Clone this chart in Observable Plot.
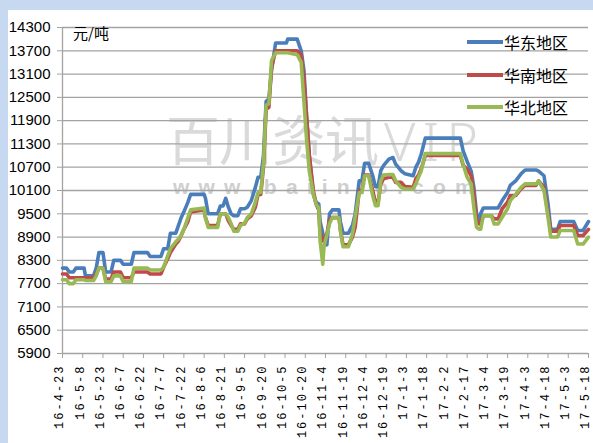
<!DOCTYPE html>
<html><head><meta charset="utf-8">
<script src="https://cdn.jsdelivr.net/npm/d3@7"></script>
<script src="https://cdn.jsdelivr.net/npm/@observablehq/plot@0.6"></script>
<style>
html,body{margin:0;padding:0;background:#c6d9f1;width:593px;height:443px;overflow:hidden;}
#panel{position:absolute;left:8px;top:10px;width:585px;height:433px;background:#fff;overflow:hidden;}
#chart{position:absolute;left:0;top:0;z-index:2;}
.wm{position:absolute;z-index:1;white-space:nowrap;}
#wm1{left:158px;top:101px;font:54px/54px "Noto Sans CJK SC",sans-serif;color:#dadada;letter-spacing:-1px;}
#wm1 span{letter-spacing:7px;margin-left:6px;font-family:"Noto Sans","Liberation Sans",sans-serif;font-weight:300;}
#wm2{left:165px;top:166px;font:bold 21px/21px "Liberation Sans",Arial,sans-serif;color:#cfcfcf;letter-spacing:9.2px;}
#unit{position:absolute;z-index:3;left:65px;top:15px;font:15px/15px "Noto Sans CJK SC",sans-serif;color:#000;}
.lg{position:absolute;z-index:3;left:459px;height:20px;display:flex;align-items:center;font:16px/20px "Noto Sans CJK SC",sans-serif;color:#000;}
.lg i{display:inline-block;width:36px;height:4px;margin-right:1px;}
svg [aria-label="x-axis tick label"] text{letter-spacing:2px;}
</style></head>
<body>
<div id="panel">
  <div class="wm" id="wm1">百川资讯<span>VIP</span></div>
  <div class="wm" id="wm2">www.baiinfo.com</div>
  <div id="unit">元/吨</div>
  <div id="legend"></div>
  <div id="chart"></div>
</div>
<script>
const dates = [
"2016-04-23","2016-04-26","2016-04-28","2016-05-01","2016-05-03","2016-05-09","2016-05-10","2016-05-16","2016-05-18","2016-05-20",
"2016-05-23","2016-05-25","2016-05-29","2016-05-31","2016-06-05","2016-06-07","2016-06-13","2016-06-15","2016-06-20","2016-06-25",
"2016-06-27","2016-07-03","2016-07-05","2016-07-07","2016-07-10","2016-07-12","2016-07-16","2016-07-18","2016-07-20","2016-07-22",
"2016-07-25","2016-07-27","2016-08-06","2016-08-07","2016-08-09","2016-08-16","2016-08-18","2016-08-20","2016-08-22","2016-08-24",
"2016-08-26","2016-08-28","2016-08-31","2016-09-02","2016-09-05","2016-09-07","2016-09-10","2016-09-13","2016-09-15","2016-09-17",
"2016-09-19","2016-09-21","2016-09-23","2016-09-25","2016-09-28","2016-10-06","2016-10-07","2016-10-14","2016-10-17","2016-10-19",
"2016-10-21","2016-10-23","2016-10-26","2016-10-28","2016-10-30","2016-10-31","2016-11-02","2016-11-03","2016-11-05","2016-11-07",
"2016-11-09","2016-11-14","2016-11-15","2016-11-17","2016-11-21","2016-11-24","2016-11-26","2016-11-29","2016-12-01","2016-12-03",
"2016-12-06","2016-12-09","2016-12-11","2016-12-13","2016-12-15","2016-12-17","2016-12-21","2016-12-24","2016-12-26","2016-12-30",
"2017-01-02","2017-01-08","2017-01-10","2017-01-12","2017-01-14","2017-01-17","2017-02-12","2017-02-14","2017-02-17","2017-02-20",
"2017-02-22","2017-02-24","2017-02-26","2017-02-27","2017-03-01","2017-03-07","2017-03-09","2017-03-12","2017-03-15","2017-03-19",
"2017-03-21","2017-03-25","2017-03-29","2017-04-01","2017-04-09","2017-04-11","2017-04-15","2017-04-18","2017-04-20","2017-04-25",
"2017-04-27","2017-05-07","2017-05-10","2017-05-14","2017-05-18"];

const east = [
8100,8100,8000,8000,8100,8100,7900,7900,8100,8500,
8500,8000,8000,8300,8300,8200,8200,8500,8500,8500,
8400,8400,8400,8600,8600,9000,9000,9200,9400,9550,
9800,10000,10000,9900,9500,9500,9700,9700,9900,9670,
9500,9450,9450,9630,9630,9670,9840,10180,10440,10440,
11000,12400,12460,13200,13900,13900,14000,14000,13700,13200,
12000,11000,10000,9800,9750,9300,9000,8800,8700,9500,
9600,9600,9300,9000,9000,9200,9500,10350,10350,10800,
10800,10480,10200,10200,10610,10740,10910,10950,10780,10610,
10530,10480,10700,10830,11040,11450,11450,11130,10850,10600,
10180,9500,9320,9500,9650,9650,9650,9650,9840,10050,
10230,10350,10530,10630,10630,10600,10480,9750,9100,9100,
9300,9300,9070,9070,9300];

const south = [
7950,7950,7850,7850,7850,7850,7850,7850,7950,8100,
8100,7820,7820,8000,8000,7850,7850,8000,8000,8000,
7950,7950,7950,8120,8340,8500,8720,8800,8940,9100,
9300,9550,9600,9400,9200,9200,9500,9500,9500,9320,
9200,9100,9100,9240,9240,9370,9450,9670,10000,10000,
10700,12200,12240,13270,13700,13700,13700,13700,13600,13000,
12000,11000,10100,9750,9600,9000,8800,8850,8980,9350,
9400,9400,9100,8700,8700,8900,9150,10100,10100,10500,
10500,10100,9800,9800,10270,10400,10440,10440,10310,10310,
10200,10180,10400,10500,10660,11000,11000,10750,10650,10480,
10000,9350,9240,9240,9450,9450,9370,9370,9630,9800,
9970,9970,10140,10230,10230,10350,10180,9500,9050,9050,
9200,9200,8940,8940,9100];

const north = [
7800,7800,7700,7700,7800,7800,7780,7780,7900,8100,
8100,7750,7750,7900,7900,7750,7750,8100,8100,8100,
8050,8050,8050,8120,8420,8600,8780,8850,8950,9100,
9400,9600,9650,9400,9150,9150,9500,9500,9500,9400,
9250,9050,9050,9200,9260,9400,9500,9800,10050,10050,
10800,12300,12330,13450,13650,13650,13650,13600,13400,12400,
11400,10600,10000,9750,9650,8800,8200,8700,8950,9250,
9400,9400,9070,8650,8650,8980,9410,10050,10050,10480,
10480,9970,9710,9710,10350,10500,10510,10510,10350,10180,
10140,10140,10270,10450,10610,11050,11050,10780,10440,10270,
9670,9150,9100,9100,9450,9450,9240,9240,9410,9630,
9840,10000,10180,10270,10270,10340,10100,9410,8900,8900,
9070,9070,8720,8720,8900];

const seriesNames = ["华东地区","华南地区","华北地区"];
const seriesColors = ["#4a7ebb","#be4b48","#98b954"];
const yTicks = [5900,6500,7100,7700,8300,8900,9500,10100,10700,11300,11900,12500,13100,13700,14300];
const xTickLabels = ["16-4-23","16-5-8","16-5-23","16-6-7","16-6-22","16-7-7","16-7-22","16-8-6","16-8-21","16-9-5","16-9-20","16-10-5","16-10-20","16-11-4","16-11-19","16-12-4","16-12-19","17-1-3","17-1-18","17-2-2","17-2-17","17-3-4","17-3-19","17-4-3","17-4-18","17-5-3","17-5-18"];

const parseDay = s => { const [y,m,d] = s.split("-").map(Number); return new Date(Date.UTC(y < 100 ? 2000 + y : y, m - 1, d)); };
const allSeries = [east, south, north];
const rows = [];
allSeries.forEach((vals, s) => vals.forEach((v, i) => rows.push({date: parseDay(dates[i]), value: v, series: seriesNames[s]})));
const xTickDates = xTickLabels.map(parseDay);
const labelOf = new Map(xTickDates.map((d, i) => [+d, xTickLabels[i]]));

const chart = Plot.plot({
  width: 585, height: 433,
  marginLeft: 54, marginRight: 5, marginTop: 17, marginBottom: 90,
  style: {background: "transparent", overflow: "visible"},
  x: {type: "utc", domain: [xTickDates[0], xTickDates[xTickDates.length - 1]]},
  y: {domain: [yTicks[0], yTicks[yTicks.length - 1]]},
  color: {domain: seriesNames, range: seriesColors},
  marks: [
    Plot.gridY(yTicks, {stroke: "#a3a3a3", strokeOpacity: 1, strokeWidth: 1.3}),
    Plot.ruleX([xTickDates[0]], {stroke: "#a3a3a3", strokeWidth: 1.3}),
    Plot.axisY(yTicks, {tickSize: 5, tickPadding: 7, stroke: "#a3a3a3", fill: "#000", fontSize: 15, fontFamily: "Liberation Sans, Arial, sans-serif", tickFormat: d => String(d), label: null}),
    Plot.axisX(xTickDates, {tickSize: 5, stroke: "#a3a3a3", label: null, tickFormat: () => ""}),
    Plot.axisX(xTickDates, {tickSize: 5, tickPadding: 6, tickRotate: -90, dx: -3, stroke: "none", fill: "#000", fontSize: 12, fontFamily: "Liberation Mono, monospace", tickFormat: d => labelOf.get(+d), label: null}),
    Plot.line(rows, {x: "date", y: "value", z: "series", stroke: "series", strokeWidth: 3.6, strokeLinejoin: "round", strokeLinecap: "round"})
  ]
});
document.getElementById("chart").appendChild(chart);

const legendTops = [22, 55, 87];
const lg = document.getElementById("legend");
seriesNames.forEach((name, i) => {
  const row = document.createElement("div");
  row.className = "lg";
  row.style.top = legendTops[i] + "px";
  row.innerHTML = `<i style="background:${seriesColors[i]}"></i><span>${name}</span>`;
  lg.appendChild(row);
});
</script>
</body></html>
